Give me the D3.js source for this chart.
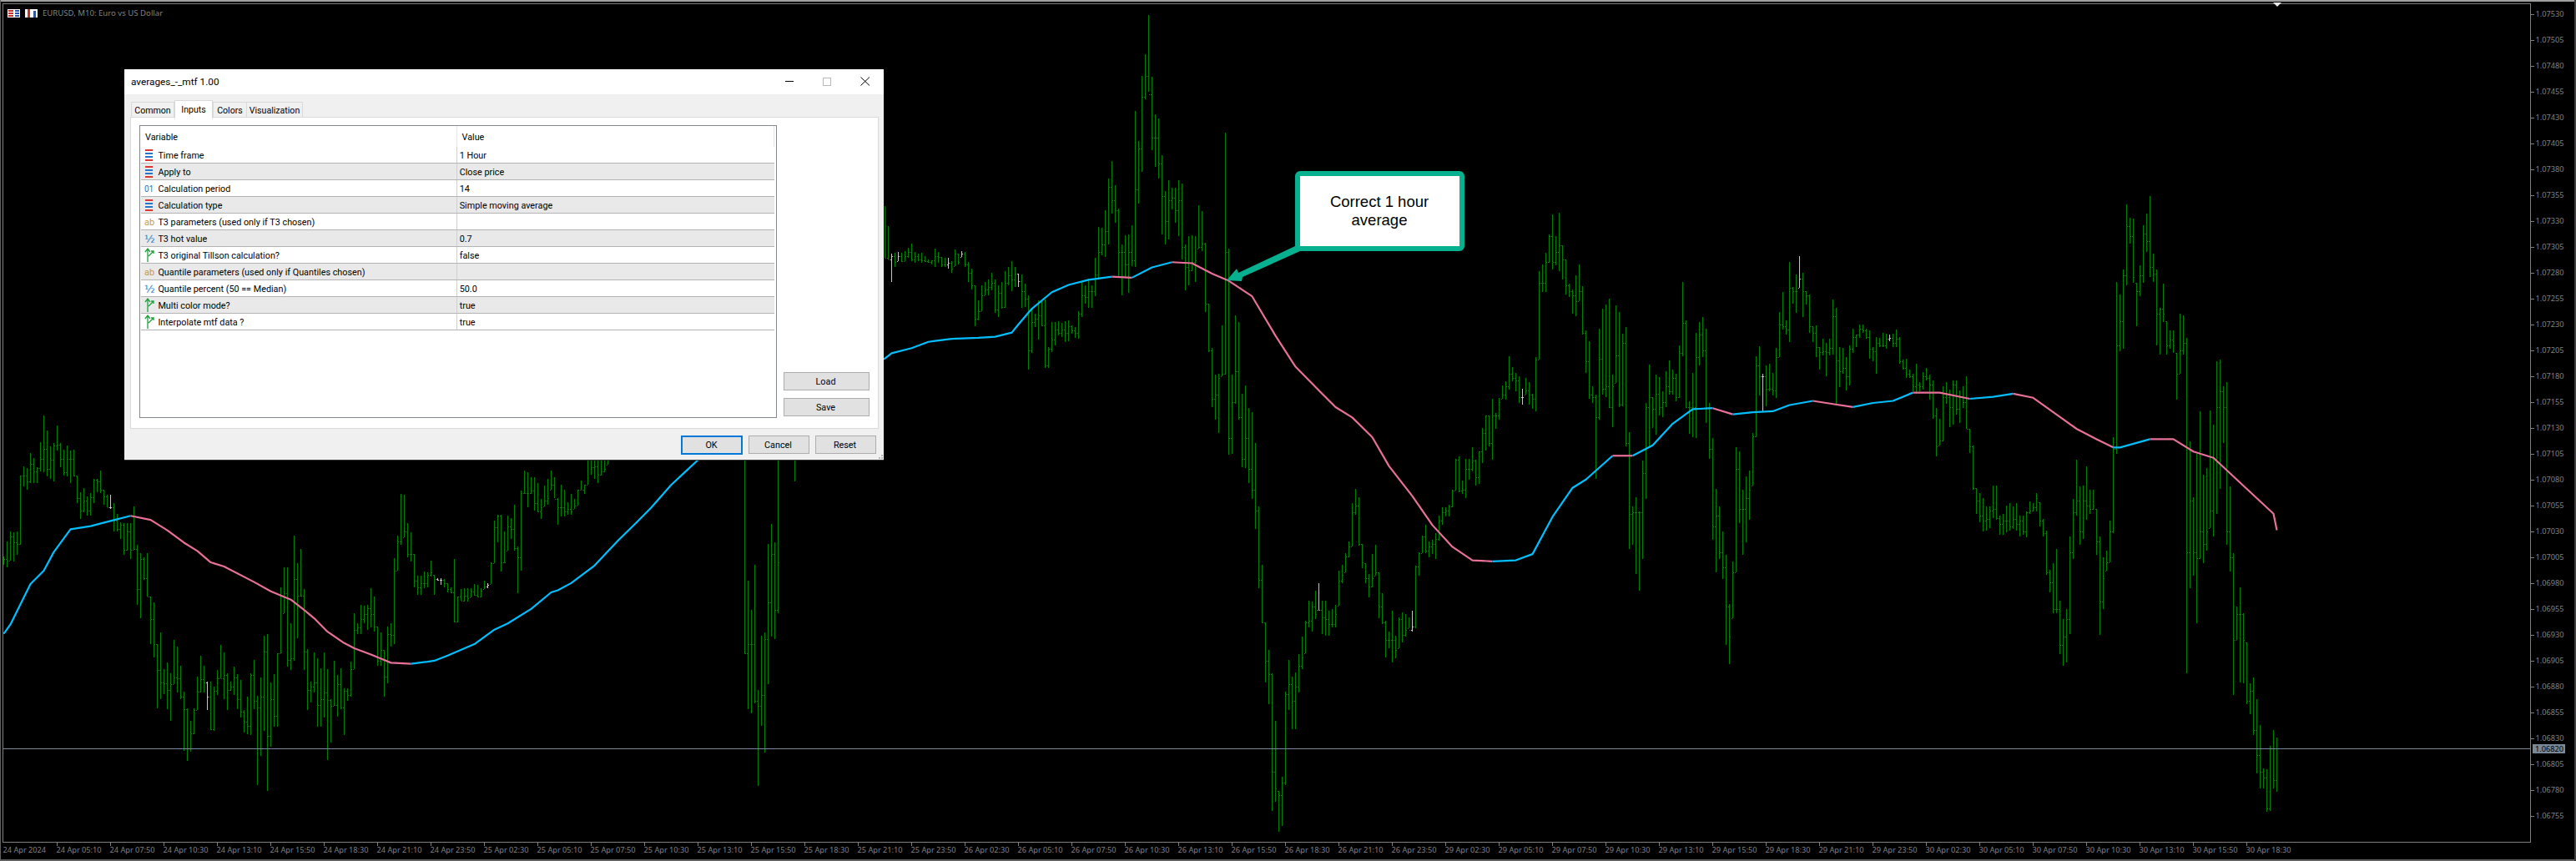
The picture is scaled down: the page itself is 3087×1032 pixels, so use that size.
<!DOCTYPE html>
<html><head><meta charset="utf-8">
<script src="https://cdn.jsdelivr.net/npm/d3@7/dist/d3.min.js"></script>
<style>html,body{margin:0;padding:0;background:#000;overflow:hidden}svg{display:block}</style>
</head><body>
<svg id="c" width="3087" height="1032"></svg>
<script>
// Bars of EURUSD M10, in points above 1.06000. Null = bar fully covered by the dialog.
const hidden = n => Array(n).fill(null);
const highs = [
1006,1020,1030,1029,1030,1084,1093,1091,1106,1101,
1092,1116,1142,1127,1112,1115,1132,1115,1109,1113,
1108,1109,1084,1068,1072,1064,1067,1081,1081,1089,
1070,1065,1065,1057,1047,1039,1038,1038,1038,1054,
1017,1009,1005,1009,967,961,921,932,897,903,
893,925,919,900,875,859,847,859,890,910,
900,885,885,880,896,920,913,893,885,899,
892,886,857,870,893,906,871,889,929,931,
884,892,912,976,995,995,941,1026,999,1013,
974,916,885,913,907,898,913,897,868,905,
891,898,878,878,904,951,941,959,958,959,
975,967,938,932,915,938,941,1004,1026,1066,
1065,1038,1029,1008,987,987,991,990,1002,988,
985,985,984,980,976,1003,967,974,975,975,
975,979,978,975,982,980,1000,1040,1046,1046,
1030,1045,1043,1056,1015,1069,1089,1087,1082,1082,
1077,1061,1074,1081,1089,1082,1062,1075,1070,1058,
1066,1061,1070,1079,1075,1115,1110,1100,1100,1100,
1105,1105,...hidden(40),
1120,982,954,998,877,929,932,1018,
1037,1019,1130,...hidden(4),1130,...hidden(26),
1344,1325,1298,1299,1300,1299,
1301,1304,1308,1300,1298,1299,1296,1293,1292,1303,
1300,1295,1294,1294,1291,1302,1298,1301,1300,1290,
1284,1268,1253,1268,1271,1273,1280,1273,1268,1271,
1281,1285,1291,1285,1279,1278,1269,1258,1246,1240,
1253,1253,1254,1208,1232,1232,1233,1231,1233,1234,
1229,1227,1243,1271,1268,1274,1268,1294,1324,1323,
1340,1371,1388,1364,1342,1307,1316,1317,1326,1436,
1407,1470,1491,1529,1469,1433,1429,1393,1359,1369,
1362,1362,1369,1366,1307,1315,1316,1315,1345,1339,
1309,1250,1207,1181,1182,1229,1415,1303,1181,1239,
1232,1163,1171,1149,1145,1115,1054,998,942,915,
893,847,779,793,875,906,890,894,911,928,
944,963,962,973,980,963,963,953,955,959,
992,998,1009,1020,1057,1071,1063,1018,999,989,
1008,1017,990,970,944,933,953,929,947,952,
950,947,953,997,1010,1026,1036,1020,1022,1028,
1045,1053,1053,1056,1070,1100,1102,1079,1100,1100,
1111,1099,1107,1130,1142,1142,1158,1144,1159,1171,
1175,1199,1189,1183,1180,1168,1178,1174,1163,1198,
1281,1288,1299,1317,1336,1315,1338,1306,1293,1269,
1264,1277,1288,1267,1224,1214,1170,1162,1226,1245,
1249,1255,1181,1248,1242,1221,1227,1126,1054,1063,
1049,1098,1154,1191,1160,1181,1179,1165,1185,1195,
1186,1182,1210,1271,1234,1156,1183,1222,1232,1237,
1226,1154,1120,1071,1054,1030,1007,960,1001,1111,
1107,1070,1083,1089,1125,1199,1209,1182,1190,1192,
1183,1207,1242,1261,1234,1290,1266,1278,1296,1280,
1262,1259,1228,1229,1208,1216,1212,1216,1254,1246,
1208,1207,1198,1210,1226,1220,1230,1230,1226,1224,
1208,1218,1217,1222,1221,1220,1221,1225,1218,1196,
1197,1186,1182,1192,1174,1184,1188,1181,1176,1149,
1139,1170,1174,1167,1176,1176,1166,1170,1180,1129,
1113,1072,1067,1062,1054,1054,1074,1074,1045,1047,
1055,1057,1054,1057,1045,1045,1049,1059,1057,1067,
1058,1042,1031,993,999,1013,963,945,955,1025,
1061,1099,1073,1074,1093,1070,1070,1052,1025,1005,
1011,1040,1121,1271,1259,1283,1346,1333,1332,1270,
1287,1326,1337,1354,1298,1283,1246,1269,1233,1224,
1224,1202,1240,1239,1217,1117,1063,1105,1146,1085,
1091,1147,1133,1194,1196,1170,1174,1073,1009,957,
976,951,923,883,889,868,843,801,800,823,838,831];
const lows = [
998,995,1002,1001,1007,1017,1073,1070,1077,1077,
1077,1088,1087,1083,1081,1078,1108,1092,1084,1083,
1077,1083,1057,1042,1048,1045,1045,1057,1068,1067,
1056,1053,1052,1030,1030,1023,1007,1011,1003,1012,
959,946,983,967,921,908,859,868,873,858,
847,882,874,868,818,808,817,834,857,874,
874,857,838,837,872,888,868,857,876,872,
858,850,836,834,833,858,785,813,837,779,
822,841,841,912,951,899,896,905,927,967,
896,857,865,874,841,841,850,809,826,861,
851,858,833,866,870,897,931,931,941,935,
937,933,900,900,870,883,919,921,992,1017,
1024,1005,1001,976,969,969,975,976,986,969,
982,978,976,971,970,942,942,963,962,962,
966,968,966,966,974,975,979,999,1019,991,
999,1011,1023,1011,970,992,1066,1053,1066,1050,
1048,1042,1054,1056,1070,1062,1036,1044,1044,1046,
1046,1052,1055,1070,1066,1075,1085,1081,1077,1084,
1087,1094,...hidden(40),
911,858,854,864,784,842,816,882,
928,926,951,...hidden(4),1078,...hidden(26),
1294,1293,1271,1285,1291,1290,
1291,1294,1291,1289,1291,1289,1290,1289,1288,1285,
1289,1285,1285,1284,1280,1286,1288,1295,1285,1271,
1264,1228,1234,1243,1258,1258,1263,1241,1237,1245,
1246,1268,1262,1266,1266,1246,1247,1186,1202,1227,
1215,1228,1188,1188,1203,1210,1219,1218,1213,1214,
1221,1217,1216,1237,1250,1246,1246,1257,1274,1297,
1295,1307,1337,1328,1276,1258,1276,1260,1286,1285,
1347,1377,1447,1455,1398,1382,1371,1317,1307,1312,
1341,1328,1315,1293,1263,1268,1281,1271,1303,1301,
1242,1203,1150,1138,1125,1180,1181,1104,1105,1153,
1138,1092,1091,1077,1061,1032,975,941,884,863,
760,769,740,745,785,857,839,839,874,897,
912,937,933,945,954,931,929,929,937,937,
958,980,990,1005,1015,1046,1016,994,980,966,
976,987,946,940,908,917,903,907,917,923,
928,936,933,936,987,1009,1009,1005,1008,1003,
1021,1036,1044,1044,1053,1069,1068,1066,1062,1080,
1088,1074,1076,1096,1108,1112,1099,1129,1138,1158,
1157,1167,1175,1165,1154,1152,1162,1152,1148,1146,
1196,1261,1261,1289,1283,1287,1281,1273,1259,1256,
1240,1238,1252,1220,1183,1158,1154,1081,1138,1162,
1160,1149,1131,1173,1150,1151,1112,1013,1017,989,
973,1003,1061,1112,1130,1123,1142,1140,1150,1162,
1162,1156,1159,1199,1149,1124,1121,1120,1190,1198,
1135,1100,1022,990,1003,984,920,902,946,990,
1038,1007,1019,1041,1074,1121,1161,1145,1151,1165,
1161,1159,1198,1225,1220,1213,1250,1241,1265,1237,
1249,1222,1213,1198,1186,1200,1180,1200,1201,1153,
1169,1182,1166,1171,1202,1208,1217,1222,1216,1197,
1194,1182,1208,1208,1206,1214,1208,1208,1192,1186,
1178,1178,1165,1163,1165,1167,1176,1157,1139,1102,
1113,1117,1153,1131,1133,1143,1135,1149,1129,1106,
1070,1047,1039,1030,1031,1033,1043,1041,1027,1027,
1029,1031,1032,1031,1025,1027,1024,1047,1049,1049,
1035,1025,988,971,951,951,911,900,903,931,
1003,1045,1017,1023,1041,1047,1051,1007,930,955,
992,1000,1028,1105,1204,1206,1268,1308,1270,1228,
1257,1270,1300,1276,1271,1210,1201,1232,1201,1206,
1202,1157,1182,1201,893,975,987,941,1003,999,
1011,1033,1025,1047,1071,1115,1017,991,872,925,
884,883,863,853,833,796,782,782,759,760,782,778];
const closes = [
1003,1002,1025,1019,1018,1084,1084,1078,1095,1088,
1091,1100,1110,1090,1099,1113,1114,1100,1087,1100,
1100,1084,1062,1050,1060,1050,1063,1080,1078,1070,
1064,1053,1053,1040,1032,1036,1012,1030,1012,1013,
974,1003,985,967,945,921,896,884,883,877,
882,889,888,870,858,820,835,857,875,887,
884,870,839,876,888,888,891,877,880,889,
868,856,846,842,891,866,860,870,914,832,
868,852,912,913,970,906,907,984,968,968,
914,877,880,884,862,868,874,867,861,862,
882,860,876,872,897,935,937,945,950,956,
950,938,905,915,890,931,930,992,1020,1020,
1030,1008,1008,982,976,980,980,988,990,984,
983,983,980,974,971,943,967,963,968,965,
972,969,967,973,977,978,999,1034,1045,1000,
1000,1035,1032,1014,1005,1067,1067,1067,1069,1057,
1049,1053,1060,1062,1075,1061,1053,1053,1049,1052,
1049,1055,1070,1070,1075,1100,1092,1093,1085,1088,
1090,1100,...hidden(40),
912,921,921,866,861,872,926,961,
1008,954,1000,...hidden(4),1100,...hidden(26),
1294,1293,1296,1290,1296,1291,
1296,1300,1293,1296,1293,1292,1291,1290,1292,1296,
1295,1288,1288,1289,1284,1298,1290,1298,1288,1280,
1268,1235,1243,1258,1264,1266,1270,1244,1260,1247,
1270,1277,1273,1279,1272,1262,1255,1205,1232,1235,
1239,1229,1190,1206,1215,1225,1222,1225,1222,1228,
1224,1222,1240,1258,1256,1262,1262,1278,1300,1307,
1320,1363,1350,1340,1300,1300,1288,1300,1292,1360,
1400,1450,1470,1452,1410,1410,1385,1354,1330,1350,
1352,1340,1350,1305,1285,1282,1290,1292,1305,1308,
1250,1205,1158,1162,1178,1182,1300,1120,1155,1185,
1140,1100,1120,1090,1070,1050,983,942,905,892,
798,782,775,787,873,882,866,880,900,908,
942,944,957,950,954,947,945,940,940,950,
982,988,1006,1015,1048,1055,1018,1000,985,977,
985,990,957,942,925,925,925,915,945,930,
935,935,938,996,1009,1025,1011,1015,1018,1023,
1040,1048,1050,1054,1069,1099,1069,1070,1090,1090,
1098,1082,1107,1125,1142,1115,1142,1142,1155,1162,
1170,1182,1178,1176,1160,1160,1166,1162,1158,1196,
1270,1270,1290,1315,1290,1300,1306,1293,1268,1262,
1258,1252,1262,1222,1194,1162,1160,1140,1197,1168,
1170,1150,1170,1200,1152,1212,1115,1047,1048,1048,
1048,1086,1150,1160,1148,1163,1150,1155,1170,1165,
1178,1160,1202,1231,1150,1150,1150,1198,1220,1205,
1150,1110,1035,1045,1010,995,957,928,990,1090,
1052,1052,1062,1070,1122,1190,1180,1180,1168,1168,
1166,1198,1230,1228,1225,1265,1262,1262,1274,1262,
1258,1228,1222,1208,1203,1204,1203,1207,1238,1195,
1185,1188,1180,1206,1218,1220,1226,1224,1218,1206,
1204,1212,1210,1210,1216,1217,1212,1216,1194,1188,
1182,1180,1170,1172,1170,1180,1178,1172,1142,1112,
1118,1160,1160,1150,1172,1148,1160,1155,1129,1112,
1072,1060,1045,1040,1042,1050,1052,1043,1037,1040,
1040,1035,1042,1037,1040,1030,1048,1050,1053,1062,
1040,1028,990,981,955,955,920,928,945,1010,
1048,1060,1030,1060,1055,1052,1055,1020,962,985,
1000,1030,1110,1210,1233,1277,1325,1315,1276,1262,
1277,1318,1310,1285,1279,1240,1245,1240,1210,1215,
1210,1182,1205,1212,1010,1060,1010,1004,1030,1018,
1030,1050,1100,1150,1165,1150,1030,1005,925,950,
950,925,866,876,838,814,798,792,762,820,790,820];
const dojiBars = [32,61,130,131,145,266,268,283,287,304,394,422,455,527,538,565];

// Averages indicator readings: bar index and value in points above 1.06000.
const maBars = [0,2,8,12,15,20,26,32,38,44,49,54,58,62,66,75,80,86,90,93,97,102,105,110,116,122,127,129,133,141,147,151,158,164,166,170,177,184,190,194,200,204,208,264,266,272,277,279,284,292,297,302,304,308,314,319,325,332,338,344,350,356,362,367,374,381,387,394,399,404,410,415,422,428,434,440,446,453,458,464,470,474,482,488,494,500,506,512,518,524,530,535,542,548,554,560,566,572,580,589,596,602,608,621,627,632,634,643,650,656,662,672,680,681];
const maValues = [931,940,979,992,1010,1032,1035,1040,1045,1041,1031,1019,1011,1000,996,981,972,964,954,946,933,922,917,911,903,902,904,905,910,921,935,941,955,971,973,980,997,1021,1040,1053,1075,1087,1099,1197,1202,1207,1213,1214,1216,1217,1218,1222,1230,1245,1261,1268,1273,1276,1275,1285,1290,1289,1279,1272,1257,1219,1189,1166,1150,1140,1121,1093,1064,1036,1015,1002,1001,1002,1008,1044,1072,1080,1103,1103,1113,1134,1148,1149,1143,1145,1146,1152,1156,1153,1150,1154,1156,1164,1164,1158,1160,1163,1159,1129,1119,1111,1111,1119,1119,1107,1101,1071,1047,1031];
const maColorBreaks = [0,38,122,332,338,350,446,482,488,512,518,542,554,572,589,602,632,643,681];

const priceTicks = [1.0753,1.07505,1.0748,1.07455,1.0743,1.07405,1.0738,1.07355,1.0733,1.07305,1.0728,1.07255,1.0723,1.07205,1.0718,1.07155,1.0713,1.07105,1.0708,1.07055,1.0703,1.07005,1.0698,1.06955,1.0693,1.06905,1.0688,1.06855,1.0683,1.06805,1.0678,1.06755];
const timeLabels = ["24 Apr 2024","24 Apr 05:10","24 Apr 07:50","24 Apr 10:30","24 Apr 13:10","24 Apr 15:50","24 Apr 18:30","24 Apr 21:10","24 Apr 23:50","25 Apr 02:30","25 Apr 05:10","25 Apr 07:50","25 Apr 10:30","25 Apr 13:10","25 Apr 15:50","25 Apr 18:30","25 Apr 21:10","25 Apr 23:50","26 Apr 02:30","26 Apr 05:10","26 Apr 07:50","26 Apr 10:30","26 Apr 13:10","26 Apr 15:50","26 Apr 18:30","26 Apr 21:10","26 Apr 23:50","29 Apr 02:30","29 Apr 05:10","29 Apr 07:50","29 Apr 10:30","29 Apr 13:10","29 Apr 15:50","29 Apr 18:30","29 Apr 21:10","29 Apr 23:50","30 Apr 02:30","30 Apr 05:10","30 Apr 07:50","30 Apr 10:30","30 Apr 13:10","30 Apr 15:50","30 Apr 18:30"];
const lastPrice = 1.0682;

const paramNames = ["Time frame","Apply to","Calculation period","Calculation type","T3 parameters (used only if T3 chosen)","T3 hot value","T3 original Tillson calculation?","Quantile parameters (used only if Quantiles chosen)","Quantile percent (50 == Median)","Multi color mode?","Interpolate mtf data ?"];
const paramValues = ["1 Hour","Close price","14","Simple moving average","","0.7","false","","50.0","true","true"];
const paramKinds = ["enum","enum","int","enum","str","dbl","bool","str","dbl","bool","bool"];
const tabNames = ["Common","Inputs","Colors","Visualization"];

const svg = d3.select("#c");
const GREY = "#808080", GREEN = "#008000", TEAL = "#07b08f";
const AXF = "'Noto Sans',sans-serif", UIF = "Roboto,sans-serif";
const toPrice = p => 1.06 + p / 1e5;

const x = d3.scaleLinear().domain([0, 681]).range([4, 2728]);
const y = d3.scaleLinear().domain([1.06755, 1.0753]).range([978, 16.5]);
const bx = i => x(i) + 0.5;

// frame
svg.append("rect").attr("width",3087).attr("height",1032).attr("fill","#000");
svg.append("rect").attr("x",0).attr("y",0).attr("width",3087).attr("height",2).attr("fill","#a0a0a0");
svg.append("rect").attr("x",0).attr("y",1030).attr("width",3087).attr("height",2).attr("fill","#606060");
svg.append("rect").attr("x",3085).attr("y",0).attr("width",2).attr("height",1032).attr("fill","#404040");
svg.append("rect").attr("x",0).attr("y",0).attr("width",1).attr("height",1032).attr("fill","#606060");
svg.append("path").attr("d","M3.5,1009.5V4.5H3032.5V1009.5H3.5").attr("fill","none").attr("stroke",GREY).attr("stroke-width",1).attr("shape-rendering","crispEdges");

// bars
const barIdx = d3.range(highs.length).filter(i => highs[i] !== null);
const isDoji = new Set(dojiBars);
const barColor = i => isDoji.has(i) ? "#c8c8c8" : GREEN;
const gBars = svg.append("g").attr("shape-rendering","crispEdges").attr("stroke-width",1);
gBars.selectAll("line.hl").data(barIdx).join("line").attr("class","hl")
  .attr("x1",bx).attr("x2",bx)
  .attr("y1",i=>y(toPrice(highs[i]))).attr("y2",i=>y(toPrice(lows[i])))
  .attr("stroke",barColor);
gBars.selectAll("line.cl").data(barIdx).join("line").attr("class","cl")
  .attr("x1",i=>x(i)+1).attr("x2",i=>x(i)+2)
  .attr("y1",i=>Math.round(y(toPrice(closes[i])))+0.5).attr("y2",i=>Math.round(y(toPrice(closes[i])))+0.5)
  .attr("stroke",barColor);
gBars.selectAll("line.op").data(barIdx.filter(i=>i>0 && closes[i-1]!==null)).join("line").attr("class","op")
  .attr("x1",i=>x(i)-1).attr("x2",i=>x(i))
  .attr("y1",i=>Math.round(y(toPrice(Math.min(highs[i],Math.max(lows[i],closes[i-1])))))+0.5)
  .attr("y2",i=>Math.round(y(toPrice(Math.min(highs[i],Math.max(lows[i],closes[i-1])))))+0.5)
  .attr("stroke",barColor);

// averages line, coloured by slope state
const line = d3.line().x(d=>x(d[0])+0.5).y(d=>y(toPrice(d[1])));
const maPts = maBars.map((b,k)=>[b,maValues[k]]);
d3.pairs(maColorBreaks).forEach(([a,b],k)=>{
  svg.append("path").datum(maPts.filter(d=>d[0]>=a && d[0]<=b))
    .attr("d",line).attr("fill","none")
    .attr("stroke", k%2===0 ? "#00bfff" : "#e8709a")
    .attr("stroke-width",2.2).attr("stroke-linejoin","round");
});

// current price line
svg.append("line").attr("x1",4).attr("x2",3032).attr("y1",897.5).attr("y2",897.5)
  .attr("stroke","#778899").attr("stroke-width",1).attr("shape-rendering","crispEdges");

// axes
const gy = svg.append("g").attr("transform","translate(3032.5,0)")
  .call(d3.axisRight(y).tickValues(priceTicks).tickFormat(d3.format(".5f")).tickSize(4).tickPadding(2));
gy.select(".domain").remove();
gy.selectAll("line").attr("stroke",GREY).attr("shape-rendering","crispEdges");
gy.selectAll("text").attr("fill",GREY).attr("font-family",AXF).attr("font-size",9.2);

const gx = svg.append("g").attr("transform","translate(0,1009.5)")
  .call(d3.axisBottom(x).tickValues(timeLabels.map((_,k)=>k*16)).tickFormat((_,k)=>timeLabels[k]).tickSize(4));
gx.select(".domain").remove();
gx.selectAll("line").attr("stroke",GREY).attr("shape-rendering","crispEdges");
gx.selectAll("text").attr("fill",GREY).attr("font-family",AXF).attr("font-size",9.2)
  .attr("text-anchor","start").attr("x",-1).attr("y",6).attr("dy","0.71em");
gx.select(".tick line").remove();

// last price tag
svg.append("rect").attr("x",3035).attr("y",892).attr("width",39).attr("height",11).attr("fill","#778899");
svg.append("text").attr("x",3038).attr("y",901).attr("fill","#000").attr("font-family",AXF).attr("font-size",9.2).text(d3.format(".5f")(lastPrice));

// chart title + toolbar icons
const ic = svg.append("g").attr("shape-rendering","crispEdges");
ic.append("rect").attr("x",9).attr("y",11).attr("width",15).attr("height",10).attr("fill","#fff");
[12,15,18].forEach(v=>ic.append("rect").attr("x",10).attr("y",v).attr("width",6).attr("height",2).attr("fill","#c8322d"));
[12,15,18].forEach(v=>ic.append("rect").attr("x",18).attr("y",v).attr("width",5).attr("height",2).attr("fill","#2d55a0"));
ic.append("rect").attr("x",30).attr("y",11).attr("width",15).attr("height",10).attr("fill","#fff");
ic.append("rect").attr("x",33).attr("y",11).attr("width",3).attr("height",10).attr("fill","#c8322d");
ic.append("rect").attr("x",40).attr("y",13).attr("width",3).attr("height",8).attr("fill","#2d55a0");
svg.append("text").attr("x",51).attr("y",19).attr("fill",GREY).attr("font-family",AXF).attr("font-size",9.6).text("EURUSD, M10:  Euro vs US Dollar");

// shift marker
svg.append("path").attr("d","M2724,3H2734L2729,8Z").attr("fill","#e8e8e8");

// dialog
const dlg = svg.append("g");
const R = (p,a,b,w,h,f,s,sw)=>p.append("rect").attr("x",a).attr("y",b).attr("width",w).attr("height",h).attr("fill",f).attr("stroke",s||"none").attr("stroke-width",sw||0).attr("shape-rendering","crispEdges");
const T = (p,a,b,t,o={})=>p.append("text").attr("x",a).attr("y",b).attr("font-family",o.font||UIF).attr("font-size",o.size||10.8).attr("fill",o.fill||"#000").attr("text-anchor",o.anchor||"start").text(t);

R(dlg,149,83,910,468,"#f0f0f0");
R(dlg,149,83,910,30,"#fff");
T(dlg,157,102,"averages_-_mtf 1.00",{size:11.8});
R(dlg,941,97,10,1,"#000");
R(dlg,986.5,93.5,9,9,"none","#b8b8b8",1);
dlg.append("path").attr("d","M1031.5,92.5L1042,102.5M1042,92.5L1031.5,102.5").attr("stroke","#000").attr("fill","none");

// panel & tabs
R(dlg,156.5,140.5,896,373,"#fff","#d9d9d9",1);
const tabX = [[157,208],[209,254],[255,295],[295,362]];
tabX.forEach(([a,b],k)=>{
  const active = k===1;
  R(dlg,a+0.5,active?120.5:122.5,b-a,active?21:18,active?"#fff":"#f0f0f0","#d9d9d9",1);
  T(dlg,(a+b)/2+0.5,active?135:136,tabNames[k],{anchor:"middle",size:10.6});
});
R(dlg,210,139,44,3,"#fff");

// table
R(dlg,167.5,150.5,763,350,"#fff","#828790",1);
T(dlg,174,168,"Variable");
T(dlg,553.5,168,"Value");
R(dlg,547,151,1,25,"#e5e5e5");
R(dlg,927,151,1,25,"#e5e5e5");
paramNames.forEach((nm,k)=>{
  const top = 176+k*20;
  const kind = paramKinds[k];
  if(k%2===1) R(dlg,168.5,top,759.5,19,"#e9e9e9");
  R(dlg,168.5,top+19,759.5,1,"#b4b4b4");
  R(dlg,547,top,1,19,"#d0d0d0");
  T(dlg,189.4,top+14,nm);
  T(dlg,550.7,top+14,paramValues[k]);
  const c = top+10;
  if(kind==="enum"){
    R(dlg,174,c-7,9,2,"#d93a34");R(dlg,174,c-3,9,2,"#2a76c6");R(dlg,174,c+1,9,2,"#2a76c6");R(dlg,174,c+5,9,2,"#d93a34");
  }else if(kind==="int"){
    T(dlg,173,c+4,"01",{fill:"#2a76c6",size:10});
  }else if(kind==="str"){
    T(dlg,173,c+4,"ab",{fill:"#c89a3c",size:11});
  }else if(kind==="dbl"){
    T(dlg,173,c+5,"½",{fill:"#2a76c6",size:13,font:"'DejaVu Sans',sans-serif"});
  }else{
    dlg.append("path").attr("d",`M177,${c+8}V${c-7}M174,${c-4}L177,${c-8}L180,${c-4}M178,${c+1}L184,${c-5}M181,${c-5}H184V${c-2}`).attr("fill","none").attr("stroke","#1ea03c").attr("stroke-width",1.3);
  }
});

// buttons
const btn = (a,b,w,h,t,blue)=>{
  R(dlg,a+0.5,b+0.5,w,h,"#e1e1e1",blue?"#0078d7":"#adadad",blue?2:1);
  T(dlg,a+w/2,b+h/2+4,t,{anchor:"middle",size:10.8});
};
btn(938.5,446,102,21,"Load");
btn(938.5,477,102,21,"Save");
btn(816.5,522,72,21,"OK",true);
btn(896.5,522,72,21,"Cancel");
btn(976.5,522,72,21,"Reset");
[[1056,545],[1056,548],[1053,548]].forEach(([a,b])=>R(dlg,a,b,2,2,"#b8b8b8"));
R(dlg,149,551,910,1,"#333");

// callout
const an = svg.append("g");
an.append("path").attr("d","M1470,336L1482,322L1484,327L1552,295L1558,301L1489,332L1488,337Z").attr("fill",TEAL);
an.append("rect").attr("x",1555).attr("y",208).attr("width",197).attr("height",90).attr("rx",3).attr("fill","#fff").attr("stroke",TEAL).attr("stroke-width",6);
an.append("text").attr("x",1653).attr("y",248).attr("text-anchor","middle").attr("font-family","'Liberation Sans',sans-serif").attr("font-size",18.5).attr("fill","#000").text("Correct 1 hour");
an.append("text").attr("x",1653).attr("y",270).attr("text-anchor","middle").attr("font-family","'Liberation Sans',sans-serif").attr("font-size",18.5).attr("fill","#000").text("average");
</script>
</body></html>
